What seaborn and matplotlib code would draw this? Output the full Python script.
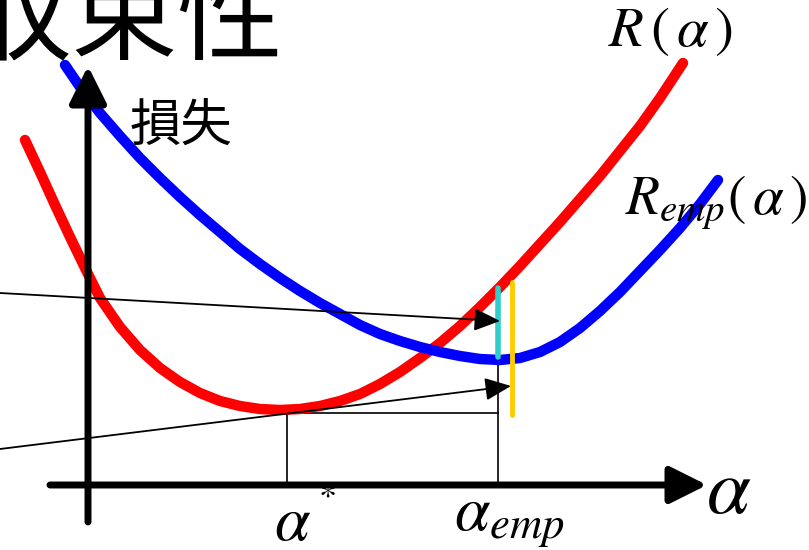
import matplotlib
matplotlib.use("Agg")
import matplotlib.pyplot as plt
import seaborn as sns
import pandas as pd

sns.set_theme(style="white")
plt.rcParams['font.family'] = ['Noto Sans CJK JP', 'DejaVu Sans']
plt.rcParams['mathtext.fontset'] = 'stix'

# Curves (read in picture pixel coordinates)
red_x = [25, 40, 55, 70, 85, 100, 120, 140, 160, 180, 200, 220, 240, 260, 280, 300, 320, 340,
         360, 380, 400, 420, 440, 460, 480, 500, 520, 540, 560, 580, 600, 620, 640, 660, 683]
red_y = [140, 172, 205, 237, 268, 298, 327, 350, 368, 382, 393, 401, 406, 409, 410, 409, 406, 401,
         394, 384, 372, 358, 343, 326, 307, 287, 266, 244, 222, 199, 176, 151, 126, 98, 63]
blue_x = [65, 80, 100, 120, 140, 160, 180, 200, 220, 240, 260, 280, 300, 320, 340, 360, 380, 400,
          420, 440, 460, 480, 500, 520, 540, 560, 580, 600, 620, 640, 660, 680, 700, 718]
blue_y = [65, 87, 113, 136, 158, 178, 197, 215, 232, 249, 264, 278, 291, 303, 314, 325, 334, 341,
          347, 352, 356, 359, 360, 358, 352, 342, 328, 311, 292, 271, 250, 228, 204, 180]

alpha_star = 287
alpha_emp = 498
r_min = 410
remp_min = 360
r_at_emp = 288

title = "一様収束性"
ylabel = "損失"
label_r = r"$R\,(\,\alpha\,)$"
label_remp = r"$R_{emp}(\,\alpha\,)$"

fig = plt.figure(figsize=(8.09, 5.5), dpi=100)
ax = fig.add_axes([0, 0, 1, 1])
ax.set_xlim(0, 809)
ax.set_ylim(550, 0)
ax.axis('off')

df_r = pd.DataFrame({'x': red_x, 'y': red_y})
df_b = pd.DataFrame({'x': blue_x, 'y': blue_y})
sns.lineplot(data=df_r, x='x', y='y', sort=False, color='#ff0000', lw=7.5, ax=ax,
             solid_capstyle='round', zorder=3)
sns.lineplot(data=df_b, x='x', y='y', sort=False, color='#0000ff', lw=7.5, ax=ax,
             solid_capstyle='round', zorder=3)

# axes arrows
ax.annotate('', xy=(88, 66), xytext=(88, 522),
            arrowprops=dict(arrowstyle='-|>,head_length=0.9,head_width=0.45', lw=5,
                            color='black', shrinkA=0, shrinkB=0, mutation_scale=25), zorder=4)
ax.annotate('', xy=(707, 485), xytext=(50, 485),
            arrowprops=dict(arrowstyle='-|>,head_length=0.9,head_width=0.45', lw=5,
                            color='black', shrinkA=0, shrinkB=0, mutation_scale=25), zorder=4)

# thin guide lines
ax.plot([alpha_star, alpha_star], [r_min, 485], color='black', lw=1.2, zorder=2)
ax.plot([alpha_emp, alpha_emp], [remp_min, 485], color='black', lw=1.2, zorder=2)
ax.plot([alpha_star, alpha_emp], [413, 413], color='black', lw=1.2, zorder=2)

# cyan and yellow bars
ax.plot([alpha_emp, alpha_emp], [r_at_emp, remp_min - 3], color='#33cccc', lw=4,
        solid_capstyle='round', zorder=5)
ax.plot([512, 512], [282, 415], color='#ffcc00', lw=3.5, solid_capstyle='round', zorder=5)

# pointer arrows
ax.annotate('', xy=(500, 321), xytext=(0, 293),
            arrowprops=dict(arrowstyle='-|>,head_length=0.8,head_width=0.35', lw=1.3,
                            color='black', shrinkA=0, shrinkB=0, mutation_scale=20), zorder=6)
ax.annotate('', xy=(511, 386), xytext=(0, 449),
            arrowprops=dict(arrowstyle='-|>,head_length=0.8,head_width=0.35', lw=1.3,
                            color='black', shrinkA=0, shrinkB=0, mutation_scale=20), zorder=6)

# texts
ax.text(283, 52, title, fontsize=76, ha='right', va='baseline', color='black')
ax.text(181, 126, ylabel, fontsize=37, ha='center', va='center', color='black')
ax.text(670, 30, label_r, fontsize=41, ha='center', va='center', color='black')
ax.text(716, 203, label_remp, fontsize=40, ha='center', va='center', color='black')
ax.text(729, 490, r"$\alpha$", fontsize=57, ha='center', va='center', color='black')
ax.text(293, 522, r"$\alpha$", fontsize=46, ha='center', va='center', color='black')
ax.text(327, 496, r"$*$", fontsize=26, ha='center', va='center', color='black')
ax.text(509, 517, r"$\alpha_{emp}$", fontsize=46, ha='center', va='center', color='black')

fig.savefig("out.png", dpi=100)
